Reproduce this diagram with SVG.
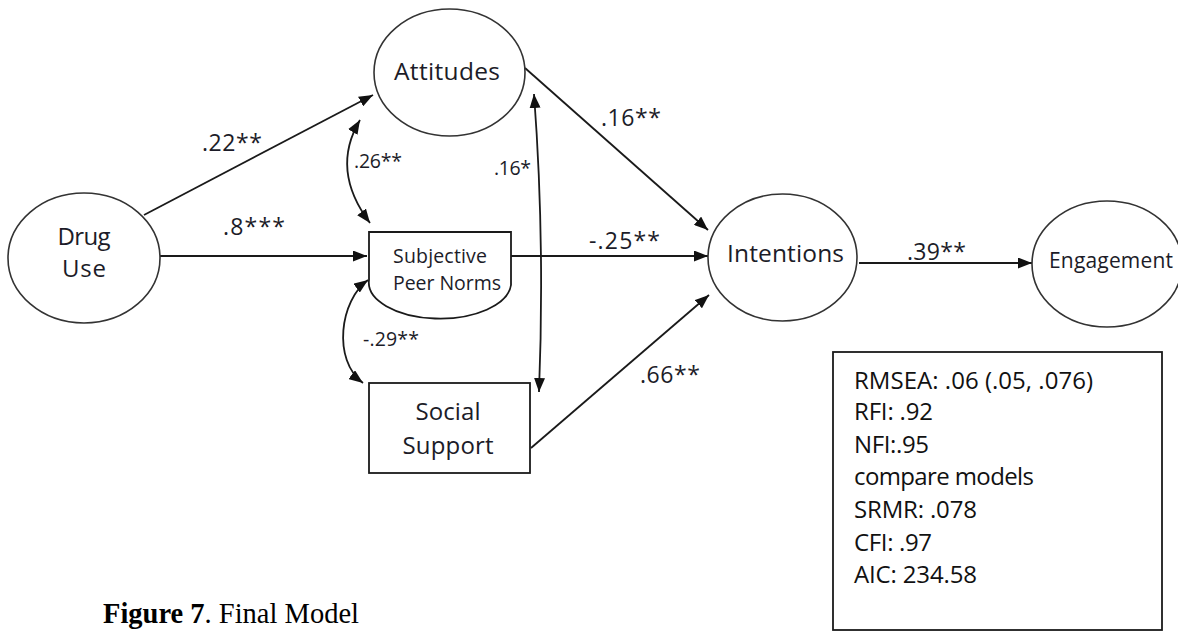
<svg xmlns="http://www.w3.org/2000/svg" width="1178" height="631" viewBox="0 0 1178 631">
<style>
.node{fill:#fff;stroke:#333;stroke-width:1.6}
.box{fill:#fff;stroke:#1a1a1a;stroke-width:1.8}
.lbl{font-family:"Open Sans","Liberation Sans",sans-serif;fill:#1c1c28;text-anchor:middle}
.edge{font-family:"Open Sans","Liberation Sans",sans-serif;fill:#1c1c28;font-size:23px}
.small{font-size:19.5px}
.conn{fill:none;stroke:#1a1a1a;stroke-width:1.8}
.stat{font-family:"Open Sans","Liberation Sans",sans-serif;fill:#111;font-size:24px}
.cap{font-family:"Liberation Serif","Times New Roman",serif;fill:#000;font-size:28.5px}
</style>
<defs>
<marker id="ah" viewBox="0 0 14 11" refX="14" refY="5.5" markerUnits="userSpaceOnUse" markerWidth="14" markerHeight="11" orient="auto-start-reverse">
<path d="M0,0 L14,5.5 L0,11 z" fill="#111"/>
</marker>
</defs>
<rect width="1178" height="631" fill="#fff"/>

<g id="connectors">
<line class="conn" x1="144" y1="215" x2="373" y2="95" marker-end="url(#ah)"/>
<line class="conn" x1="159" y1="256" x2="367" y2="256" marker-end="url(#ah)"/>
<line class="conn" x1="525" y1="68" x2="708" y2="230" marker-end="url(#ah)"/>
<line class="conn" x1="511" y1="256" x2="708" y2="256" marker-end="url(#ah)"/>
<line class="conn" x1="531" y1="448" x2="709" y2="295" marker-end="url(#ah)"/>
<line class="conn" x1="859" y1="263" x2="1032" y2="263" marker-end="url(#ah)"/>
<path class="conn" d="M360,120 Q330,170 370,223" marker-start="url(#ah)" marker-end="url(#ah)"/>
<path class="conn" d="M368,280 C340,300 332,360 363,383" marker-start="url(#ah)" marker-end="url(#ah)"/>
<path class="conn" d="M534,94 Q545,240 539,392" marker-start="url(#ah)" marker-end="url(#ah)"/>
<text class="edge" x="202" y="151" textLength="60">.22**</text>
<text class="edge" x="223" y="235" textLength="62">.8***</text>
<text class="edge small" x="354" y="168" textLength="48">.26**</text>
<text class="edge small" x="494" y="175" textLength="37">.16*</text>
<text class="edge" x="601" y="126" textLength="60">.16**</text>
<text class="edge" x="589" y="249" textLength="71">-.25**</text>
<text class="edge small" x="363" y="346" textLength="56">-.29**</text>
<text class="edge" x="640" y="383" textLength="60">.66**</text>
<text class="edge" x="907" y="260" textLength="59">.39**</text>
</g>

<g id="drug-use">
<ellipse class="node" cx="84" cy="258" rx="76" ry="65"/>
<text class="lbl" x="84" y="245" font-size="24" textLength="53">Drug</text>
<text class="lbl" x="84" y="277" font-size="24" textLength="44">Use</text>
</g>

<g id="attitudes">
<ellipse class="node" cx="449.5" cy="72.5" rx="75.5" ry="63.5"/>
<text class="lbl" x="447" y="80" font-size="24.5" textLength="106">Attitudes</text>
</g>

<g id="subjective-peer-norms">
<path class="box" d="M369,232 H511 V285 A71 36 0 0 1 369,280 Z"/>
<text class="lbl" x="440" y="263" font-size="19.5" textLength="94">Subjective</text>
<text class="lbl" x="447" y="290" font-size="19.5" textLength="108">Peer Norms</text>
</g>

<g id="social-support">
<rect class="box" x="369" y="383" width="161" height="90"/>
<text class="lbl" x="448" y="420" font-size="24" textLength="65">Social</text>
<text class="lbl" x="448" y="454" font-size="24" textLength="91">Support</text>
</g>

<g id="intentions">
<ellipse class="node" cx="782.5" cy="257.5" rx="74.5" ry="63.5"/>
<text class="lbl" x="785.5" y="262" font-size="24.5" textLength="117">Intentions</text>
</g>

<g id="engagement">
<ellipse class="node" cx="1107" cy="264" rx="75" ry="63"/>
<text class="lbl" x="1111" y="268" font-size="21" textLength="124">Engagement</text>
</g>

<g id="fit-stats">
<rect class="box" x="833" y="352" width="329" height="278" stroke-width="1.6"/>
<text class="stat" x="854" y="389" textLength="239">RMSEA: .06 (.05, .076)</text>
<text class="stat" x="854" y="420" textLength="79">RFI: .92</text>
<text class="stat" x="854" y="453" textLength="75">NFI:.95</text>
<text class="stat" x="854" y="485" textLength="180">compare models</text>
<text class="stat" x="854" y="518" textLength="123">SRMR: .078</text>
<text class="stat" x="854" y="551" textLength="78">CFI: .97</text>
<text class="stat" x="854" y="583" textLength="123">AIC: 234.58</text>
</g>

<text class="cap" x="103" y="623"><tspan font-weight="bold">Figure 7</tspan>. Final Model</text>
</svg>
